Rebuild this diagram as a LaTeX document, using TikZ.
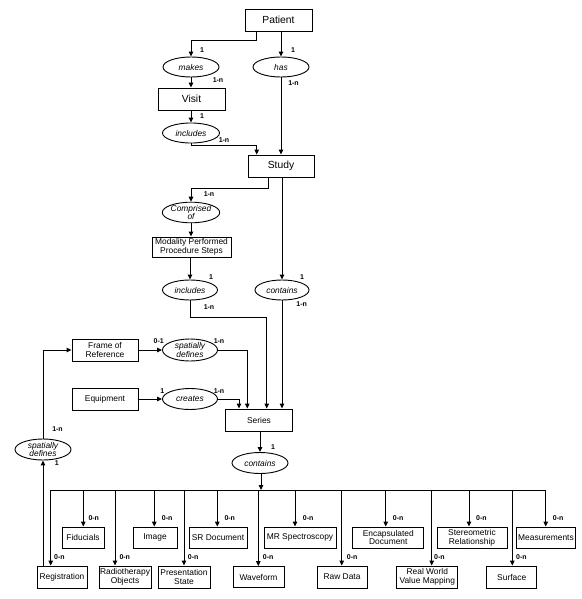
\documentclass[tikz,border=0pt]{standalone}
\usepackage{fontspec}
\setmainfont{Liberation Sans}
\usetikzlibrary{shapes.geometric,arrows.meta}
\begin{document}
\begin{tikzpicture}[x=1pt,y=-1pt]
        \tikzstyle{box}= [draw,rectangle,line width=0.9pt,inner sep=0.5pt,minimum height=21pt,align=center,font=\fontsize{8.4}{8.7}\selectfont];
        \tikzstyle{bigbox}= [box,minimum height=22pt,font=\fontsize{10.3}{11}\selectfont];
        \tikzstyle{rel}= [draw,ellipse,line width=0.9pt,inner sep=0pt,minimum width=56pt,minimum height=20pt,align=center,font=\itshape\fontsize{8.4}{8.4}\selectfont];
        \tikzstyle{card}= [inner sep=0pt,font=\bfseries\fontsize{7}{7}\selectfont];
        \tikzstyle{arr}= [line width=1pt,-{Triangle[length=5pt,width=4.5pt]}];
        \useasboundingbox (0,0) rectangle (581,599);

          % patient, visit, study
          \node[bigbox,minimum width=67pt](patient) at (278.5,20) {Patient};
          \node[rel](makes) at (191,67) {makes};
          \node[rel](has) at (281,67) {has};
          \node[bigbox,minimum width=67pt](visit) at (191.5,99) {Visit};
          \node[rel,minimum width=57pt](incvisit) at (191,133) {includes};
          \node[bigbox,minimum width=66pt](study) at (281,166) {Study};
          \node[rel](comprised) at (191,212.5) {Comprised\\of};
          \node[box,minimum width=79pt,minimum height=20pt](mpps) at (191.5,247) {Modality Performed\\Procedure Steps};
          \node[rel,minimum width=55pt](incmpps) at (190,290) {includes};
          \node[rel,minimum width=54pt](contstudy) at (282,290) {contains};

          % series and what points at it
          \node[box,minimum width=66pt,minimum height=22pt](frame) at (105,350) {Frame of\\Reference};
          \node[rel,minimum width=55pt,minimum height=22pt](spatframe) at (190,350) {spatially\\defines};
          \node[box,minimum width=66pt,minimum height=22pt](equip) at (105,399) {Equipment};
          \node[rel,minimum width=55pt,minimum height=21pt](creates) at (190,399) {creates};
          \node[box,minimum width=67pt,minimum height=22pt](series) at (259,420) {Series};
          \node[rel,minimum height=21pt](contseries) at (260,463) {contains};
          \node[rel,minimum height=21pt](spatreg) at (43,449.5) {spatially\\defines};
          \coordinate(bus) at (261,490);

          % instances
          \node[box,minimum width=42pt](fiducials) at (83,537.5) {Fiducials};
          \node[box,minimum width=44pt](image) at (155,537.5) {Image};
          \node[box,minimum width=58pt](srdoc) at (218,537.5) {SR Document};
          \node[box,minimum width=72pt](mrs) at (300,537.5) {MR Spectroscopy};
          \node[box,minimum width=71pt](encap) at (388.3,537.5) {Encapsulated\\Document};
          \node[box,minimum width=70pt](stereo) at (472,537.5) {Stereometric\\Relationship};
          \node[box,minimum width=59pt](measure) at (546,537.5) {Measurements};
          \node[box,minimum width=50pt,minimum height=22pt](registration) at (62,577) {Registration};
          \node[box,minimum width=52pt,minimum height=22pt](radio) at (125,577) {Radiotherapy\\Objects};
          \node[box,minimum width=52pt,minimum height=22pt](presentation) at (184,577) {Presentation\\State};
          \node[box,minimum width=51pt](waveform) at (258.5,577) {Waveform};
          \node[box,minimum width=50pt,minimum height=22pt](rawdata) at (342,577) {Raw Data};
          \node[box,minimum width=61pt,minimum height=22pt](realworld) at (427.3,577) {Real World\\Value Mapping};
          \node[box,minimum width=50pt,minimum height=22pt](surface) at (511.7,577) {Surface};

          \draw[arr] ([xshift=-21.8pt]patient.south) -- ++(0,9) -| (makes.north);
          \draw[arr] (has.north |- patient.south) -- (has.north);
          \draw[arr] (makes.south) -- (makes.south |- visit.north);
          \draw[arr] (incvisit.north |- visit.south) -- (incvisit.north);
          \draw[arr] (incvisit.south) -- ++(0,2) -| ([xshift=-24.3pt]study.north);
          \draw[arr] (has.south) -- (has.south |- study.north);
          \draw[arr] ([xshift=-13pt]study.south) -- ++(0,11.3) -| (comprised.north);
          \draw[arr] (comprised.south) -- (comprised.south |- mpps.north);
          \draw[arr] (incmpps.north |- mpps.south) -- (incmpps.north);
          \draw[arr] (contstudy.north |- study.south) -- (contstudy.north);
          \draw[arr] (incmpps.south) -- ++(0,17.3) -| ([xshift=7.7pt]series.north);
          \draw[arr] (contstudy.south) -- (contstudy.south |- series.north);
          \draw[arr] (frame) -- (spatframe);
          \draw[arr] (spatframe.east) -| ([xshift=-11.7pt]series.north);
          \draw[arr] (equip) -- (creates);
          \draw[arr] (creates.east) -| ([xshift=-20pt]series.north);
          \draw[arr] (contseries.north |- series.south) -- (contseries.north);
          \draw[arr] ([xshift=1pt]contseries.south) -- (bus);
          \draw[arr] (spatreg.south |- registration.north) -- (spatreg.south);
          \draw[arr] (spatreg.north) |- (frame.west);
          \draw[line width=1pt] ([xshift=-11.3pt]registration.north |- bus) -- ([xshift=-0.3pt]measure.north |- bus);

          \foreach \n/\dx/\g in {registration/-11.3/3.3, fiducials/0.3/5, radio/-10/4.3, image/-0.7/7.4,
              presentation/0/3.7, srdoc/-0.7/7, waveform/-0.2/4.4, mrs/-5/7.7, rawdata/-0.3/5, encap/-2.6/7,
              realworld/4.4/2.3, stereo/-3/7, surface/0.6/3.7, measure/-0.3/7}{
            \draw[arr] ([xshift=\dx pt]\n.north |- bus) -- ([xshift=\dx pt]\n.north);
            \node[card,anchor=west] at ([xshift=\dx pt+\g pt,yshift=8.5pt]\n.north) {0-n};
          }

          % cardinalities
          \foreach \t/\x/\y in {1/202/50, 1/293/50, 1-n/218/80, 1-n/293.5/82.7, 1/202/116, 1-n/224/140,
              1-n/209/194, 1/211/277, 1-n/209/306.7, 1/302/277, 1-n/301.7/304.3, 0-1/158.7/341, 1-n/219/341,
              1/162.3/391, 1-n/219/391, 1/273/446.7, 1-n/57.5/429.3, 1/56.7/463.3}{
            \node[card] at (\x,\y) {\t};
          }
      \end{tikzpicture}
\end{document}
